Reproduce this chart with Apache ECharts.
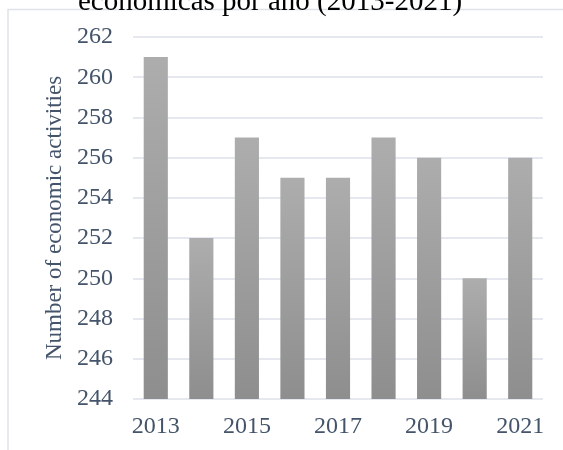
<!DOCTYPE html>
<html>
<head>
<meta charset="utf-8">
<script src="https://cdn.jsdelivr.net/npm/echarts@6/dist/echarts.min.js"></script>
<style>
  html, body { margin: 0; padding: 0; background: #fff; }
  #chart { width: 563px; height: 450px; }
</style>
</head>
<body>
<div id="chart"></div>
<script>
const years = ['2013', '2014', '2015', '2016', '2017', '2018', '2019', '2020', '2021']
const activities = [261, 252, 257, 255, 255, 257, 256, 250, 256]
const yMin = 244
const yMax = 262
const yStep = 2

const serif = '"Liberation Serif", "DejaVu Serif", serif'
const textColor = '#44546a'

const chart = echarts.init(document.getElementById('chart'))
chart.setOption({
  animation: false,
  grid: { left: 133, right: 20, top: 37, bottom: 51 },
  graphic: [
    {
      type: 'rect',
      shape: { x: 8, y: 9.5, width: 600, height: 500 },
      style: { fill: 'none', stroke: '#dfe2e8', lineWidth: 1.5 }
    },
    {
      type: 'text',
      x: 270,
      y: 17,
      style: {
        text: 'económicas por año (2013-2021)',
        font: '29px ' + serif,
        fill: '#000',
        align: 'center',
        verticalAlign: 'bottom'
      }
    }
  ],
  xAxis: {
    type: 'category',
    data: years,
    axisLine: { show: false },
    axisTick: { show: false },
    axisLabel: {
      interval: 1,
      margin: 16,
      fontFamily: serif,
      fontSize: 24,
      color: textColor
    }
  },
  yAxis: {
    type: 'value',
    min: yMin,
    max: yMax,
    interval: yStep,
    name: 'Number of economic activities',
    nameLocation: 'middle',
    nameGap: 64,
    nameTextStyle: { fontFamily: serif, fontSize: 23, color: textColor },
    axisLabel: { margin: 20, fontFamily: serif, fontSize: 24, color: textColor },
    splitLine: { lineStyle: { color: '#dde2ea', width: 1.5 } }
  },
  series: [
    {
      type: 'bar',
      data: activities,
      barWidth: '53%',
      itemStyle: {
        color: new echarts.graphic.LinearGradient(0, 0, 0, 1, [
          { offset: 0, color: '#adadad' },
          { offset: 1, color: '#8e8e8e' }
        ])
      }
    }
  ]
})
</script>
</body>
</html>
